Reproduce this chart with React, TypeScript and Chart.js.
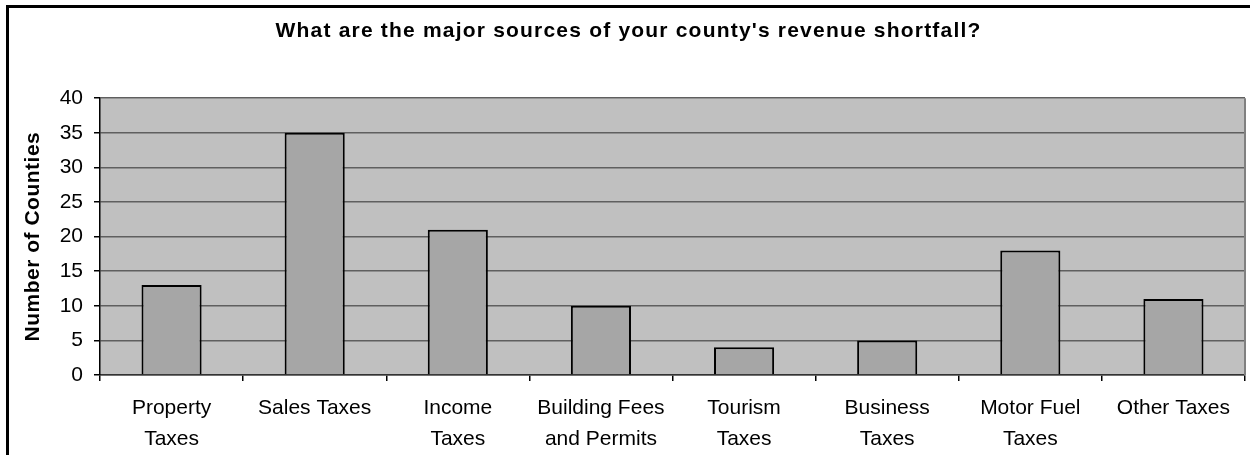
import React, { useEffect, useRef } from "react";
import { Chart, registerables } from "chart.js";

Chart.register(...registerables);

const categories: string[][] = [
  ["Property", "Taxes"],
  ["Sales Taxes"],
  ["Income", "Taxes"],
  ["Building Fees", "and Permits"],
  ["Tourism", "Taxes"],
  ["Business", "Taxes"],
  ["Motor Fuel", "Taxes"],
  ["Other Taxes"],
];
const counties: number[] = [13, 35, 21, 10, 4, 5, 18, 11];
const yMin = 0;
const yMax = 40;
const yStep = 5;
const chartTitle = "What are the major sources of your county's revenue shortfall?";
const yTitle = "Number of Counties";

const FONT = "'Liberation Sans', Arial, Helvetica, sans-serif";

const framePlugin = {
  id: "excelFrame",
  afterLayout(chart: any) {
    const tb = chart.titleBlock;
    if (tb && !tb.__patched) {
      const orig = tb.draw.bind(tb);
      tb.draw = (...args: any[]) => {
        const ctx = chart.ctx;
        ctx.save();
        (ctx as any).letterSpacing = "1.2px";
        orig(...args);
        ctx.restore();
      };
      tb.__patched = true;
    }
    const ys = chart.scales && chart.scales.y;
    if (ys && !ys.__patched) {
      const origT = ys.drawTitle.bind(ys);
      ys.drawTitle = (...args: any[]) => {
        const ctx = chart.ctx;
        ctx.save();
        (ctx as any).letterSpacing = "0.5px";
        origT(...args);
        ctx.restore();
      };
      ys.__patched = true;
    }
  },
  beforeDraw(chart: any) {
    const { ctx, chartArea: a } = chart;
    ctx.save();
    ctx.fillStyle = "#ffffff";
    ctx.fillRect(0, 0, chart.width, chart.height);
    ctx.fillStyle = "#000000";
    ctx.fillRect(6, 5, 3, chart.height - 5);
    ctx.fillRect(6, 5, chart.width - 6, 3);
    ctx.fillStyle = "#C0C0C0";
    ctx.fillRect(a.left, a.top, a.right - a.left, a.bottom - a.top);
    ctx.restore();
  },
  afterDraw(chart: any) {
    const { ctx, chartArea: a } = chart;
    ctx.save();
    ctx.strokeStyle = "#808080";
    ctx.lineWidth = 2;
    ctx.beginPath();
    ctx.moveTo(a.right, a.top);
    ctx.lineTo(a.right, a.bottom);
    ctx.stroke();
    ctx.restore();
  },
};

export default function App() {
  const ref = useRef<HTMLCanvasElement | null>(null);

  useEffect(() => {
    if (!ref.current) return;
    const chart = new Chart(ref.current, {
      type: "bar",
      data: {
        labels: categories,
        datasets: [
          {
            data: counties,
            backgroundColor: "#A6A6A6",
            borderColor: "#000000",
            borderWidth: 2,
            barPercentage: 0.42,
            categoryPercentage: 1,
          },
        ],
      },
      options: {
        responsive: false,
        animation: false,
        devicePixelRatio: 1,
        layout: { padding: { left: 12, right: 5, top: 0, bottom: 0 } },
        plugins: {
          legend: { display: false },
          tooltip: { enabled: false },
          title: {
            display: true,
            text: chartTitle,
            color: "#000",
            font: { family: FONT, size: 21, weight: "bold", lineHeight: 1.2 },
            padding: { top: 19, bottom: 54 },
          },
        },
        scales: {
          x: {
            grid: {
              offset: true,
              drawOnChartArea: false,
              drawTicks: true,
              tickLength: 6,
              color: "#000",
              lineWidth: 1.5,
            },
            border: { color: "#333", width: 1.5 },
            ticks: {
              color: "#000",
              font: { family: FONT, size: 21, lineHeight: 1.5 },
              padding: 11,
              maxRotation: 0,
              autoSkip: false,
            },
            afterFit(scale: any) {
              scale.height = 80;
            },
          },
          y: {
            min: yMin,
            max: yMax,
            grid: {
              color: "#5f5f5f",
              lineWidth: 1.5,
              tickLength: 6,
              tickColor: "#000",
            },
            border: { color: "#000", width: 1.5 },
            ticks: {
              stepSize: yStep,
              color: "#000",
              font: { family: FONT, size: 21 },
              padding: 11,
            },
            title: {
              display: true,
              text: yTitle,
              color: "#000",
              font: { family: FONT, size: 21, weight: "bold", lineHeight: 1.2 },
              padding: { top: 9, bottom: 0 },
            },
            afterFit(scale: any) {
              scale.width = 88;
            },
          },
        },
      },
      plugins: [framePlugin],
    });
    return () => chart.destroy();
  }, []);

  return (
    <div style={{ position: "absolute", left: 0, top: 0, width: 1250, height: 455 }}>
      <canvas ref={ref} width={1250} height={455} />
    </div>
  );
}
